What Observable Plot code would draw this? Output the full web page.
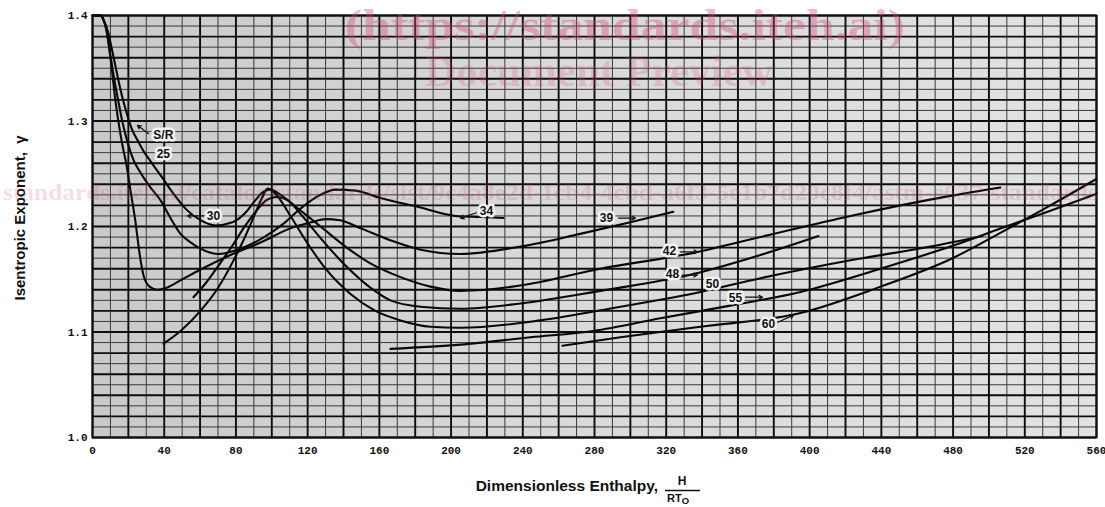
<!DOCTYPE html>
<html><head><meta charset="utf-8">
<script src="https://cdn.jsdelivr.net/npm/d3@7"></script>
<script src="https://cdn.jsdelivr.net/npm/@observablehq/plot@0.6"></script>
<style>body{margin:0;background:#fff;} #wrap{position:relative;width:1105px;height:507px;overflow:hidden}</style>
</head><body><div id="wrap"></div>
<script>
// Axis ticks
const xTicks = [0, 40, 80, 120, 160, 200, 240, 280, 320, 360, 400, 440, 480, 520, 560];
const yTicks = [1.0, 1.1, 1.2, 1.3, 1.4];

// Curves: [H/RT0, gamma]
const curve34 = [[0,1.400],[4.5,1.400],[6.1,1.396],[7.8,1.386],[10,1.362],[12.3,1.338],[14.5,1.318],[16.7,1.299],[19.5,1.280],[22.9,1.263],[26.8,1.251],[32.3,1.237],[37.9,1.225],[43.5,1.208],[49.1,1.193],[54.7,1.185],[60.2,1.179],[69.7,1.174],[82.5,1.179],[94.8,1.189],[106,1.202],[116,1.217],[126,1.229],[135.5,1.235],[146.7,1.234],[160.6,1.227],[182.9,1.218],[202.5,1.210],[216.4,1.209],[229.2,1.208]];
const curve39 = [[0,1.400],[4.5,1.400],[6.1,1.396],[7.8,1.386],[9.5,1.367],[11.2,1.343],[12.8,1.319],[14.5,1.299],[16.7,1.277],[19,1.258],[21.2,1.234],[24,1.204],[26.2,1.175],[28.4,1.154],[31.8,1.143],[36.3,1.140],[41.3,1.142],[49.1,1.149],[60,1.159],[77,1.173],[94,1.185],[110,1.198],[122,1.204],[130,1.207],[138,1.206],[150,1.198],[166,1.187],[183,1.178],[205,1.174],[239,1.181],[272,1.193],[300,1.204],[324,1.214]];
const curve42 = [[0,1.400],[4.5,1.400],[6.1,1.396],[8.4,1.386],[11.2,1.365],[13.9,1.343],[16.7,1.322],[19.5,1.305],[21.8,1.293],[25.7,1.280],[29,1.270],[32.3,1.262],[39,1.246],[45.2,1.231],[52.4,1.216],[60.2,1.206],[68.6,1.201],[78.1,1.204],[85.3,1.213],[90.9,1.225],[95.4,1.233],[99.3,1.235],[104.9,1.230],[113.2,1.219],[127.2,1.200],[141.1,1.181],[155,1.165],[171.8,1.152],[188.5,1.143],[205.2,1.139],[238.7,1.144],[283.3,1.160],[335.2,1.175],[372.6,1.190],[422.8,1.210],[478.5,1.229],[506.4,1.237]];
const curve48 = [[56.3,1.133],[63,1.146],[70.3,1.163],[78.1,1.182],[85.3,1.201],[91.5,1.215],[97,1.225],[102.6,1.228],[108.8,1.225],[116,1.212],[127.2,1.189],[141.1,1.163],[155,1.142],[166.2,1.130],[182.9,1.124],[205.2,1.122],[238.7,1.127],[283.3,1.139],[335.2,1.155],[372.6,1.173],[404.9,1.191]];
const curve50 = [[39.6,1.089],[49.1,1.101],[60.2,1.120],[69.7,1.141],[78.1,1.166],[85.3,1.191],[90.9,1.213],[94.8,1.228],[97.6,1.236],[102.1,1.231],[109.3,1.213],[118.8,1.187],[130,1.160],[143.9,1.136],[157.8,1.120],[171.8,1.111],[188.5,1.105],[205.2,1.104],[249.9,1.111],[294.5,1.124],[339.1,1.138],[372.6,1.151],[422.8,1.168],[467.4,1.181],[496.4,1.191]];
const curve55 = [[166.2,1.084],[205.2,1.088],[244.3,1.095],[279.4,1.101],[316.8,1.113],[355.8,1.125],[394.9,1.138],[439.5,1.160],[478.5,1.181],[506.4,1.198],[534.3,1.215],[559.9,1.231]];
const curve60 = [[262.1,1.087],[294.5,1.095],[339.1,1.105],[394.9,1.118],[439.5,1.143],[478.5,1.169],[506.4,1.194],[534.3,1.220],[559.9,1.245]];

// Curve labels
const labelText = ["S/R", "25", "30", "34", "39", "42", "48", "50", "55", "60"];
const labelH = [39.5, 39.5, 67.5, 219.7, 286.7, 321.8, 323.5, 345.8, 358.6, 377.0];
const labelG = [1.287, 1.269, 1.210, 1.215, 1.208, 1.177, 1.155, 1.145, 1.132, 1.107];

// Label arrows (tail -> head)
const arrowH1 = [31.2, 61.9, 214.2, 293.4, 328.0, 329.0, 364.2, 382.0];
const arrowG1 = [1.288, 1.210, 1.213, 1.208, 1.176, 1.154, 1.133, 1.109];
const arrowH2 = [25.1, 53.0, 205.2, 302.8, 337.4, 337.4, 373.7, 391.0];
const arrowG2 = [1.296, 1.210, 1.208, 1.208, 1.176, 1.154, 1.133, 1.116];

const series = [["34", curve34], ["39", curve39], ["42", curve42], ["48", curve48], ["50", curve50], ["55", curve55], ["60", curve60]];
const points = series.flatMap(([sr, pts]) => pts.map(([h, g]) => ({sr, h, g})));
const labels = labelText.map((t, i) => ({t, h: labelH[i], g: labelG[i]}));
const arrows = arrowH1.map((h, i) => ({x1: h, y1: arrowG1[i], x2: arrowH2[i], y2: arrowG2[i]}));

const majorX = d3.range(0, 29).map(i => i * 20);
const minorX = d3.range(0, 28).map(i => i * 20 + 10);
const majorY = d3.range(0, 21).map(i => +(1 + i * 0.02).toFixed(3));
const minorY = d3.range(0, 20).map(i => +(1.01 + i * 0.02).toFixed(3));

const chart = Plot.plot({
  width: 1105, height: 507,
  marginLeft: 92, marginRight: 9, marginTop: 15, marginBottom: 70,
  x: {domain: [0, 560]},
  y: {domain: [1.0, 1.4]},
  style: {fontFamily: "'Liberation Mono', monospace", fontSize: "11px", fontWeight: "bold", color: "#111", background: "white"},
  marks: [
    Plot.ruleX(minorX, {stroke: "#3a3a3a", strokeWidth: 1}),
    Plot.ruleY(minorY, {stroke: "#3a3a3a", strokeWidth: 1}),
    Plot.ruleX(majorX, {stroke: "#0d0d0d", strokeWidth: 1.9}),
    Plot.ruleY(majorY, {stroke: "#0d0d0d", strokeWidth: 1.9}),
    Plot.frame({stroke: "#111", strokeWidth: 2}),
    Plot.line(points, {x: "h", y: "g", z: "sr", curve: "monotone-x", stroke: "#080808", strokeWidth: 2.1}),
    Plot.arrow(arrows, {x1: "x1", y1: "y1", x2: "x2", y2: "y2", stroke: "#111", strokeWidth: 1.2, headLength: 5}),
    Plot.text(labels, {x: "h", y: "g", text: "t", fontFamily: "'Liberation Sans', Arial, sans-serif", fontSize: 12, fontWeight: "bold", stroke: "#f2f2f2", strokeWidth: 5, fill: "#111"}),
    Plot.axisX({ticks: xTicks, tickSize: 0, tickPadding: 9, label: null}),
    Plot.axisY({ticks: yTicks, tickSize: 0, tickPadding: 5, tickFormat: d => d.toFixed(1), label: null})
  ]
});
document.getElementById("wrap").appendChild(chart);

const svg = d3.select(chart);
const sx = chart.scale("x"), sy = chart.scale("y");
const x0 = sx.apply(0), x1 = sx.apply(560), y0 = sy.apply(1.4), y1 = sy.apply(1.0);

// paper background
const defs = svg.insert("defs", ":first-child");
const grad = defs.append("linearGradient").attr("id", "paper").attr("x1", "0").attr("x2", "1").attr("y1", "0").attr("y2", "0");
grad.append("stop").attr("offset", "0").attr("stop-color", "#c9c9c9");
grad.append("stop").attr("offset", "0.45").attr("stop-color", "#d9d9d9");
grad.append("stop").attr("offset", "1").attr("stop-color", "#e2e2e2");
svg.insert("rect", "defs + *").attr("x", x0).attr("y", y0).attr("width", x1 - x0).attr("height", y1 - y0).attr("fill", "url(#paper)");

// axis titles
const titleFont = "'Liberation Sans', Arial, sans-serif";
svg.append("text").attr("x", 658).attr("y", 491).attr("text-anchor", "end")
  .attr("font-family", titleFont).attr("font-size", 15.5).attr("font-weight", "bold").attr("fill", "#111")
  .text("Dimensionless Enthalpy,");
svg.append("text").attr("x", 682).attr("y", 485).attr("text-anchor", "middle")
  .attr("font-family", titleFont).attr("font-size", 12).attr("font-weight", "bold").attr("fill", "#111").text("H");
svg.append("line").attr("x1", 665).attr("x2", 700).attr("y1", 490.5).attr("y2", 490.5).attr("stroke", "#111").attr("stroke-width", 1.4);
const rt = svg.append("text").attr("x", 667).attr("y", 502).attr("text-anchor", "start")
  .attr("font-family", titleFont).attr("font-size", 11).attr("font-weight", "bold").attr("fill", "#111");
rt.append("tspan").text("RT");
rt.append("tspan").attr("dy", 2).attr("font-size", 9.5).text("O");
svg.append("text").attr("transform", "translate(25,218) rotate(-90)").attr("text-anchor", "middle")
  .attr("font-family", titleFont).attr("font-size", 15).attr("font-weight", "bold").attr("fill", "#111")
  .text("Isentropic Exponent,  \u03b3");

// watermark
const wm = svg.append("g").attr("font-family", "'Liberation Serif', 'DejaVu Serif', serif").attr("fill", "rgb(214,70,120)").attr("text-anchor", "start");
wm.append("text").attr("x", 345).attr("y", 40).attr("font-size", 44).attr("font-weight", "bold").attr("text-anchor", "start")
  .attr("textLength", 560).attr("lengthAdjust", "spacingAndGlyphs")
  .attr("fill-opacity", 0.38).text("(https://standards.iteh.ai)");
wm.append("text").attr("x", 425).attr("y", 86).attr("font-size", 44).attr("text-anchor", "start")
  .attr("textLength", 348).attr("lengthAdjust", "spacingAndGlyphs")
  .attr("fill-opacity", 0.22).text("Document Preview");
wm.append("text").attr("x", 3).attr("y", 200).attr("font-size", 23).attr("text-anchor", "start")
  .attr("textLength", 1095).attr("lengthAdjust", "spacingAndGlyphs")
  .attr("fill-opacity", 0.2).text("standards.iteh.ai/catalog/standards/sist/9c4a8e2d-1cb4-4cbd-a6f3-5e1b7d20c8f4/astm-e637-standards");
</script></body></html>
